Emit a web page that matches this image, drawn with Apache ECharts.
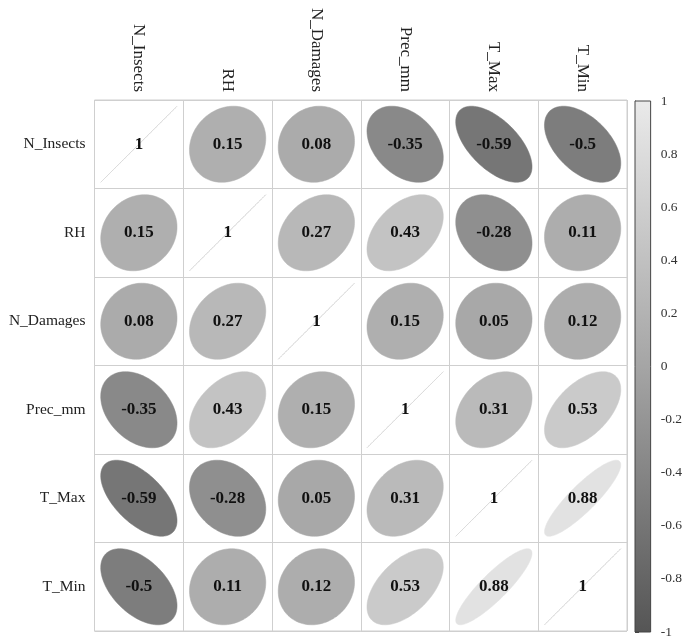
<!DOCTYPE html>
<html>
<head>
<meta charset="utf-8">
<script src="https://cdn.jsdelivr.net/npm/echarts@6/dist/echarts.min.js"></script>
<style>html,body{margin:0;padding:0;background:#fff}#c{width:685px;height:639px}</style>
</head>
<body>
<div id="c"></div>
<script>
var variables = ['N_Insects', 'RH', 'N_Damages', 'Prec_mm', 'T_Max', 'T_Min'];
var corrN_Insects = [1, 0.15, 0.08, -0.35, -0.59, -0.5];
var corrRH        = [0.15, 1, 0.27, 0.43, -0.28, 0.11];
var corrN_Damages = [0.08, 0.27, 1, 0.15, 0.05, 0.12];
var corrPrec_mm   = [-0.35, 0.43, 0.15, 1, 0.31, 0.53];
var corrT_Max     = [-0.59, -0.28, 0.05, 0.31, 1, 0.88];
var corrT_Min     = [-0.5, 0.11, 0.12, 0.53, 0.88, 1];
var colorbarTicks = [-1, -0.8, -0.6, -0.4, -0.2, 0, 0.2, 0.4, 0.6, 0.8, 1];

var rows = [corrN_Insects, corrRH, corrN_Damages, corrPrec_mm, corrT_Max, corrT_Min];
var cells = [];
rows.forEach(function (row, i) {
  row.forEach(function (v, j) { cells.push([j, i, v]); });
});

var FONT = "'Liberation Serif', 'Times New Roman', serif";
var GRAY = ['#555555', '#a5a5a5', '#eaeaea'];

function renderEllipse(params, api) {
  var c = api.coord([api.value(0), api.value(1)]);
  var sz = api.size([1, 1]);
  var r = api.value(2);
  var a = Math.acos(Math.max(-1, Math.min(1, r)));
  var s = 0.86;
  var pts = [];
  for (var k = 0; k < 120; k++) {
    var t = k / 120 * 2 * Math.PI;
    pts.push([c[0] + s * sz[0] * Math.cos(t + a / 2) / 2,
              c[1] - s * sz[1] * Math.cos(t - a / 2) / 2]);
  }
  var col = api.visual('color');
  return {
    type: 'group',
    children: [
      { type: 'polygon', shape: { points: pts },
        style: { fill: col, stroke: r >= 0.999 ? '#d9d9d9' : col, lineWidth: r >= 0.999 ? 0.8 : 0.5 } },
      { type: 'text', x: c[0], y: c[1],
        style: { text: String(r), fill: '#111', font: 'bold 17px ' + FONT,
                 align: 'center', verticalAlign: 'middle' } }
    ]
  };
}

function renderBar(params, api) {
  var p1 = api.coord([0, 1]);
  var p2 = api.coord([1, -1]);
  return {
    type: 'rect',
    shape: { x: p1[0], y: p1[1], width: p2[0] - p1[0], height: p2[1] - p1[1] },
    style: {
      fill: new echarts.graphic.LinearGradient(0, 0, 0, 1, [
        { offset: 0, color: GRAY[2] }, { offset: 0.5, color: GRAY[1] }, { offset: 1, color: GRAY[0] }
      ]),
      stroke: '#444', lineWidth: 1
    }
  };
}

var chart = echarts.init(document.getElementById('c'));
chart.setOption({
  animation: false,
  backgroundColor: '#fff',
  grid: [
    { left: 94.5, right: 58, top: 100, bottom: 8, show: true, borderColor: '#cfcfcf', borderWidth: 1 },
    { left: 635, width: 18, top: 101, bottom: 7 }
  ],
  xAxis: [
    { type: 'category', gridIndex: 0, data: variables, position: 'top',
      axisLine: { show: false }, axisTick: { show: false },
      splitLine: { show: true, lineStyle: { color: '#cfcfcf', width: 1 } },
      axisLabel: { rotate: 90, margin: 8, fontFamily: FONT, fontSize: 17, color: '#222' } },
    { type: 'value', gridIndex: 1, min: 0, max: 1, show: false }
  ],
  yAxis: [
    { type: 'category', gridIndex: 0, data: variables, inverse: true,
      axisLine: { show: false }, axisTick: { show: false },
      splitLine: { show: true, lineStyle: { color: '#cfcfcf', width: 1 } },
      axisLabel: { margin: 9, fontFamily: FONT, fontSize: 15.5, color: '#222' } },
    { type: 'value', gridIndex: 1, min: -1, max: 1, interval: 0.2, position: 'right',
      axisLine: { show: true, lineStyle: { color: '#444' } },
      axisTick: { show: true, length: 4, lineStyle: { color: '#444' } },
      splitLine: { show: false },
      axisLabel: { margin: 10, fontFamily: FONT, fontSize: 13.5, color: '#333',
        formatter: function (v) { return String(Math.round(v * 10) / 10); } } }
  ],
  visualMap: { show: false, type: 'continuous', min: -1, max: 1, dimension: 2, seriesIndex: 0,
    inRange: { color: GRAY } },
  series: [
    { type: 'custom', xAxisIndex: 0, yAxisIndex: 0, data: cells, renderItem: renderEllipse },
    { type: 'custom', xAxisIndex: 1, yAxisIndex: 1, data: [[0, 0]], renderItem: renderBar, silent: true }
  ]
});
</script>
</body>
</html>
